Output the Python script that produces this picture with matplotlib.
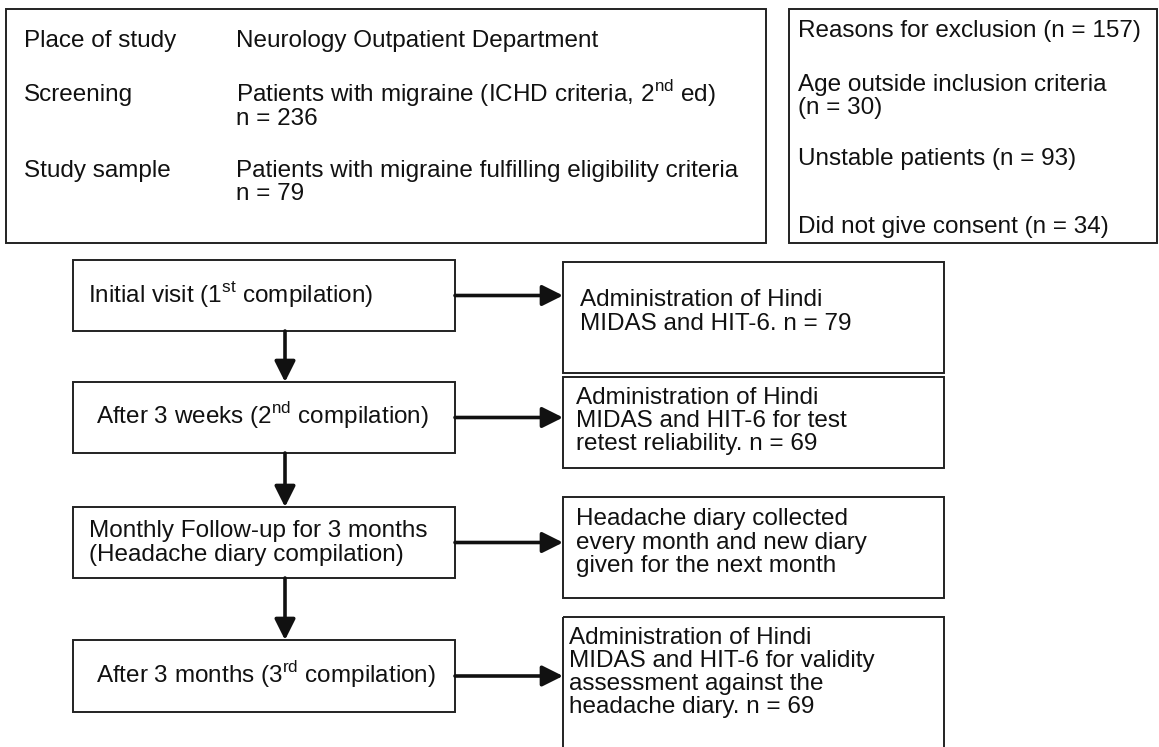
import matplotlib
matplotlib.use("Agg")
import matplotlib.pyplot as plt
from matplotlib.patches import Rectangle

plt.rcParams['font.family'] = ['Liberation Sans', 'DejaVu Sans']
plt.rcParams['mathtext.fontset'] = 'custom'
plt.rcParams['mathtext.rm'] = 'Liberation Sans'

# ---- chart text ----
study_labels = ['Place of study', 'Screening', 'Study sample']
study_details = [
    ['Neurology Outpatient Department'],
    [r'Patients with migraine (ICHD criteria, 2$^{\rm nd}$ ed)', 'n = 236'],
    ['Patients with migraine fulfilling eligibility criteria', 'n = 79'],
]
exclusion_lines = [
    ['Reasons for exclusion (n = 157)'],
    ['Age outside inclusion criteria', '(n = 30)'],
    ['Unstable patients (n = 93)'],
    ['Did not give consent (n = 34)'],
]
visit_steps = [
    [r'Initial visit (1$^{\rm st}$ compilation)'],
    [r'After 3 weeks (2$^{\rm nd}$ compilation)'],
    ['Monthly Follow-up for 3 months', '(Headache diary compilation)'],
    [r'After 3 months (3$^{\rm rd}$ compilation)'],
]
visit_actions = [
    ['Administration of Hindi', 'MIDAS and HIT-6. n = 79'],
    ['Administration of Hindi', 'MIDAS and HIT-6 for test', 'retest reliability. n = 69'],
    ['Headache diary collected', 'every month and new diary', 'given for the next month'],
    ['Administration of Hindi', 'MIDAS and HIT-6 for validity',
     'assessment against the', 'headache diary. n = 69'],
]

# ---- layout (pixel coordinates, y downwards; text y = middle of the line) ----
W, H = 1159, 747
LINE = 23.3
FS = 17.5
BASE = 6.5          # middle of a line -> its baseline
EDGE = '#222222'
TXT = '#111111'

study_box = (6, 9, 766, 243)
excl_box = (789, 9, 1157, 243)
study_rows_y = [40, 95, 170]
excl_rows_y = [30, 84, 158, 226]

step_x = (73, 455)
step_y = [(260, 331), (382, 453), (507, 578), (640, 712)]
step_text_x = [88, 96, 89, 96]
action_x = (563, 944)
action_y = [(262, 373), (377, 468), (497, 598), (617, 760)]
action_first_y = [300, 397, 519, 637]
action_text_x = [580, 576, 576, 569]
arrow_x = 285

fig = plt.figure(figsize=(W / 100, H / 100), dpi=100)
ax = fig.add_axes([0, 0, 1, 1])
ax.set_xlim(0, W)
ax.set_ylim(H, 0)
ax.axis('off')


def box(x0, y0, x1, y1):
    ax.add_patch(Rectangle((x0, y0), x1 - x0, y1 - y0, fill=False,
                           edgecolor=EDGE, lw=1.4, clip_on=False))


def lines(x, y, texts, fs=FS, gap=LINE):
    for i, t in enumerate(texts):
        ax.text(x, y + i * gap + BASE, t, fontsize=fs, va='baseline',
                ha='left', color=TXT)


def arrow(x0, y0, x1, y1):
    ax.annotate('', xy=(x1, y1), xytext=(x0, y0),
                arrowprops=dict(arrowstyle='-|>,head_length=0.9,head_width=0.45',
                                color=TXT, lw=2.6, mutation_scale=14,
                                shrinkA=0, shrinkB=0))


# top boxes
box(*study_box)
for lab, det, y in zip(study_labels, study_details, study_rows_y):
    lines(24, y, [lab])
    lines(236, y, det)

box(*excl_box)
for txt, y in zip(exclusion_lines, excl_rows_y):
    lines(798, y, txt)

# flow
for i, txt in enumerate(visit_steps):
    y0, y1 = step_y[i]
    box(step_x[0], y0, step_x[1], y1)
    mid = (y0 + y1) / 2
    lines(step_text_x[i], mid - (len(txt) - 1) * LINE / 2, txt)
    if i + 1 < len(step_y):
        arrow(arrow_x, y1, arrow_x, step_y[i + 1][0])
    arrow(step_x[1], mid, action_x[0], mid)

for i, txt in enumerate(visit_actions):
    y0, y1 = action_y[i]
    box(action_x[0], y0, action_x[1], y1)
    lines(action_text_x[i], action_first_y[i], txt)

fig.savefig('out.png', dpi=100, facecolor='white')
